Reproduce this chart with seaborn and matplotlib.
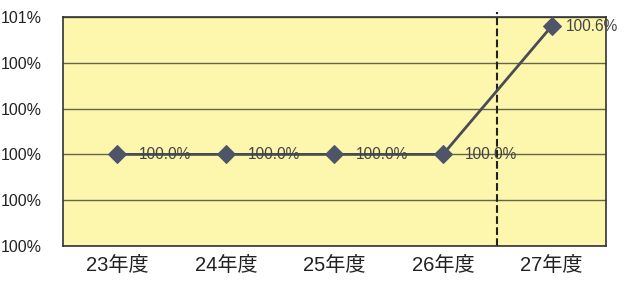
import matplotlib
matplotlib.use("Agg")
import matplotlib.pyplot as plt
import seaborn as sns
import pandas as pd
from matplotlib.ticker import FuncFormatter, FixedLocator

years = ["23年度", "24年度", "25年度", "26年度", "27年度"]
rates = [100.0, 100.0, 100.0, 100.0, 100.56]
rate_labels = ["100.0%", "100.0%", "100.0%", "100.0%", "100.6%"]
y_ticks = [99.6, 99.8, 100.0, 100.2, 100.4, 100.6]

sns.set_style("white")
plt.rcParams["font.family"] = ["Liberation Sans", "Noto Sans CJK JP", "DejaVu Sans"]

df = pd.DataFrame({"year": years, "rate": rates, "pos": range(len(years))})

fig = plt.figure(figsize=(6.24, 2.89), dpi=100)
ax = fig.add_axes([0.101, 0.149, 0.870, 0.792])
ax.set_facecolor("#fdf7ad")

sns.lineplot(data=df, x="pos", y="rate", ax=ax, color="#4a4c55", lw=2,
             marker="D", markersize=9, markerfacecolor="#4f5568",
             markeredgecolor="#4f5568", zorder=3)

# last label sits tighter to its marker (it runs into the figure edge)
offsets = [0.2, 0.2, 0.2, 0.2, 0.13]
for i, (v, t) in enumerate(zip(rates, rate_labels)):
    ax.text(i + offsets[i], v, t, fontsize=11.2, color="#444444",
            va="center", ha="left", zorder=4, clip_on=False)

ax.set_xlim(-0.5, len(years) - 0.5)
ax.set_ylim(y_ticks[0], y_ticks[-1])
ax.set_xticks(range(len(years)))
ax.set_xticklabels(years, fontsize=14.5, color="#222222")
ax.xaxis.set_minor_locator(FixedLocator([i + 0.5 for i in range(len(years) - 1)]))
ax.tick_params(axis="x", which="major", length=0, pad=7)
ax.tick_params(axis="x", which="minor", length=4, direction="in", color="#333333")
ax.set_yticks(y_ticks)
ax.yaxis.set_major_formatter(FuncFormatter(lambda v, p: "%.0f%%" % v))
ax.tick_params(axis="y", length=0, labelsize=11.5, pad=15, labelcolor="#222222")
ax.grid(axis="y", color="#66654a", lw=1.0)
ax.set_axisbelow(True)
for s in ax.spines.values():
    s.set_color("#333333")
    s.set_linewidth(1.2)

ax.plot([3.5, 3.5], [y_ticks[0], y_ticks[-1] + 0.02], ls="--", color="#222222",
        lw=1.5, clip_on=False, zorder=2)

ax.set_xlabel("")
ax.set_ylabel("")
fig.savefig("out.png", dpi=100)
